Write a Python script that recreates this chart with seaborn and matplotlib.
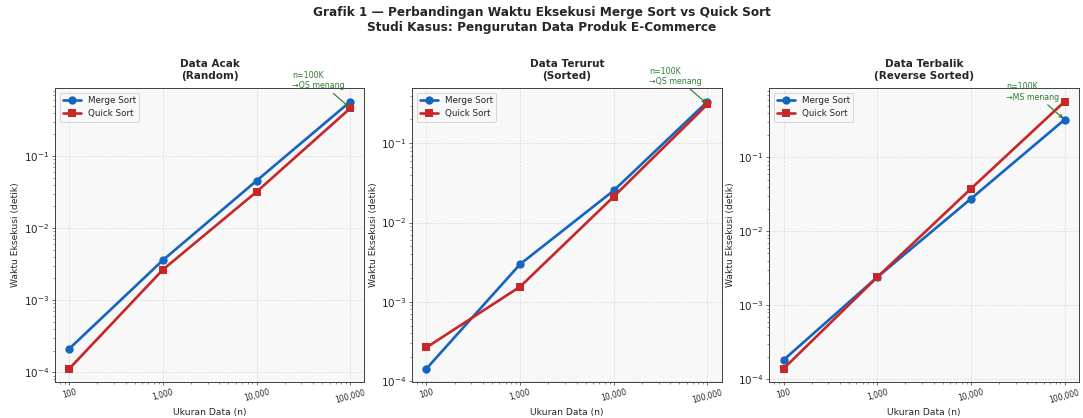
import matplotlib
matplotlib.use('Agg')
from matplotlib import pyplot as plt
import matplotlib.ticker as ticker
import seaborn as sns
import pandas as pd


# data (seconds)
ukuran = [100, 1000, 10000, 100000]
algoritma = ['Merge Sort', 'Quick Sort']

acak_ms = [2.12e-4, 3.6e-3, 0.0456, 0.571]
acak_qs = [1.12e-4, 2.66e-3, 0.032, 0.462]
urut_ms = [1.43e-4, 2.98e-3, 0.0254, 0.337]
urut_qs = [2.65e-4, 1.55e-3, 0.0213, 0.312]
balik_ms = [1.81e-4, 2.39e-3, 0.0275, 0.324]
balik_qs = [1.38e-4, 2.39e-3, 0.0376, 0.569]

judul = ['Data Acak\n(Random)', 'Data Terurut\n(Sorted)', 'Data Terbalik\n(Reverse Sorted)']
catatan = ['n=100K\n→QS menang', 'n=100K\n→QS menang', 'n=100K\n→MS menang']
pemenang = ['Quick Sort', 'Quick Sort', 'Merge Sort']
xlabels = ['100', '1,000', '10,000', '100,000']

warna = {'Merge Sort': '#1565C0', 'Quick Sort': '#C62828'}
penanda = {'Merge Sort': 'o', 'Quick Sort': 's'}

sns.set_style('ticks', {'axes.facecolor': '#f8f8f8', 'axes.edgecolor': '#444444'})
plt.rcParams['font.family'] = ['DejaVu Sans']

fig, axes = plt.subplots(1, 3, figsize=(18.05, 6.967), dpi=60)
fig.subplots_adjust(left=0.051, right=0.996, bottom=0.086, top=0.789, wspace=0.155)

kasus = [(acak_ms, acak_qs), (urut_ms, urut_qs), (balik_ms, balik_qs)]
for i, ax in enumerate(axes):
    ms, qs = kasus[i]
    df = pd.DataFrame({
        'n': ukuran * 2,
        'waktu': ms + qs,
        'algo': ['Merge Sort'] * 4 + ['Quick Sort'] * 4,
    })
    sns.lineplot(data=df, x='n', y='waktu', hue='algo', style='algo',
                 palette=warna, markers=penanda, dashes=False,
                 linewidth=3.2, markersize=10, markeredgewidth=0, ax=ax)
    ax.set_xscale('log')
    ax.set_yscale('log')
    ax.set_xticks(ukuran)
    ax.set_xticklabels(xlabels, rotation=15, fontsize=9)
    ax.tick_params(axis='y', labelsize=12.5)
    ax.grid(True, which='major', linestyle='--', color='#cccccc', alpha=0.7, linewidth=0.8)
    ax.set_title(judul[i], fontsize=12.5, fontweight='bold', pad=11)
    ax.set_xlabel('Ukuran Data (n)', fontsize=11)
    ax.set_ylabel('Waktu Eksekusi (detik)', fontsize=11)
    for s in ax.spines.values():
        s.set_linewidth(1.2)
    ax.legend(title=None, loc='upper left', fontsize=10.5, framealpha=0.9)

    y_target = ms[-1] if pemenang[i] == 'Merge Sort' else qs[-1]
    ax.annotate(catatan[i], xy=(ukuran[-1], y_target), xytext=(-70, 24),
                textcoords='offset points', fontsize=9.5, color='#2E7D32',
                arrowprops=dict(arrowstyle='->', color='#2E7D32', lw=1.4))

fig.suptitle('Grafik 1 — Perbandingan Waktu Eksekusi Merge Sort vs Quick Sort\n'
             'Studi Kasus: Pengurutan Data Produk E-Commerce',
             fontsize=14.5, fontweight='bold', y=0.985, linespacing=1.15)

fig.savefig('out.png', dpi=60)
